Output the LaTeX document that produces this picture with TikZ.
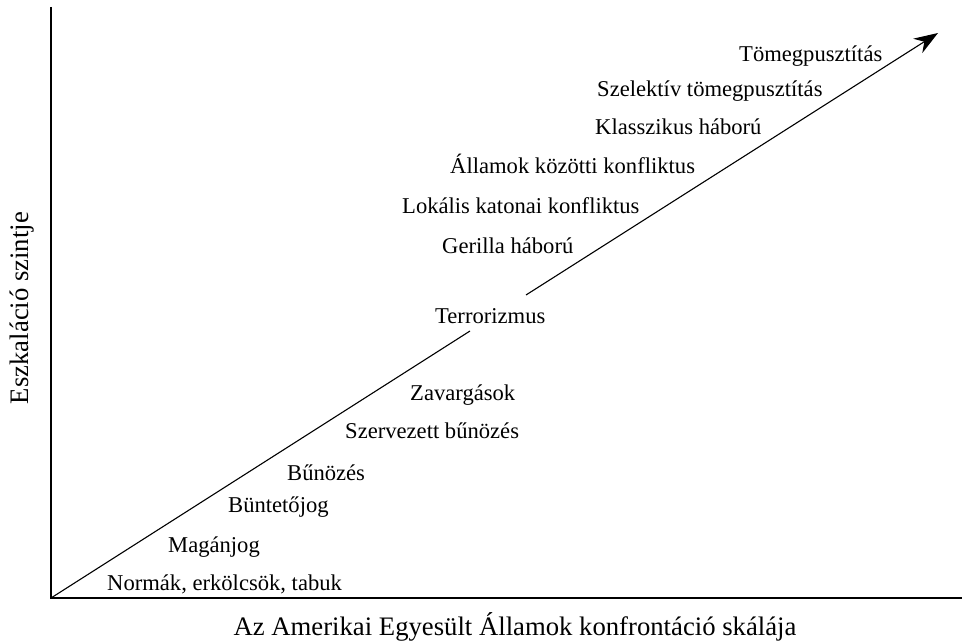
\documentclass[tikz,border=0pt]{standalone}
\usepackage{fontspec}
\setmainfont{Liberation Serif}
\usetikzlibrary{arrows.meta}
\begin{document}
\begin{tikzpicture}[x=1pt,y=-1pt,
  lbl/.style={anchor=base west,inner sep=0pt,font=\rmfamily\fontsize{22.6}{26}\selectfont},
  axlbl/.style={inner sep=0pt,font=\rmfamily\fontsize{26.7}{32}\selectfont},
  axis/.style={line width=2.5pt},
  diag/.style={line width=1.1pt}]
\useasboundingbox (0,0) rectangle (962,642);
\coordinate (top) at (51,7);
\coordinate (o) at (51,598);
\coordinate (right) at (962,598);
\coordinate (b1) at (470,331);
\coordinate (b2) at (526,295);
\coordinate (tip) at (938,33);
\draw[axis] (top) -- (o) -- (right);
\draw[diag] (o) -- (b1);
\draw[diag,-{Stealth[length=24pt,width=17pt]}] (b2) -- (tip);
\node[lbl] (t1) at (739,62) {Tömegpusztítás};
\node[lbl] (t2) at (597,97) {Szelektív tömegpusztítás};
\node[lbl] (t3) at (595,135) {Klasszikus háború};
\node[lbl] (t4) at (450,173) {Államok közötti konfliktus};
\node[lbl] (t5) at (402,213) {Lokális katonai konfliktus};
\node[lbl] (t6) at (442,253) {Gerilla háború};
\node[lbl] (t7) at (435,323) {Terrorizmus};
\node[lbl] (t8) at (410,400) {Zavargások};
\node[lbl] (t9) at (345,438) {Szervezett bűnözés};
\node[lbl] (t10) at (287,480) {Bűnözés};
\node[lbl] (t11) at (228,512) {Büntetőjog};
\node[lbl] (t12) at (168,552) {Magánjog};
\node[lbl] (t13) at (107,590) {Normák, erkölcsök, tabuk};
\node[axlbl,anchor=base] (xl) at (515,635) {Az Amerikai Egyesült Államok konfrontáció skálája};
\node[axlbl,anchor=base,rotate=90] (yl) at (28,308) {Eszkaláció szintje};
\end{tikzpicture}
\end{document}
